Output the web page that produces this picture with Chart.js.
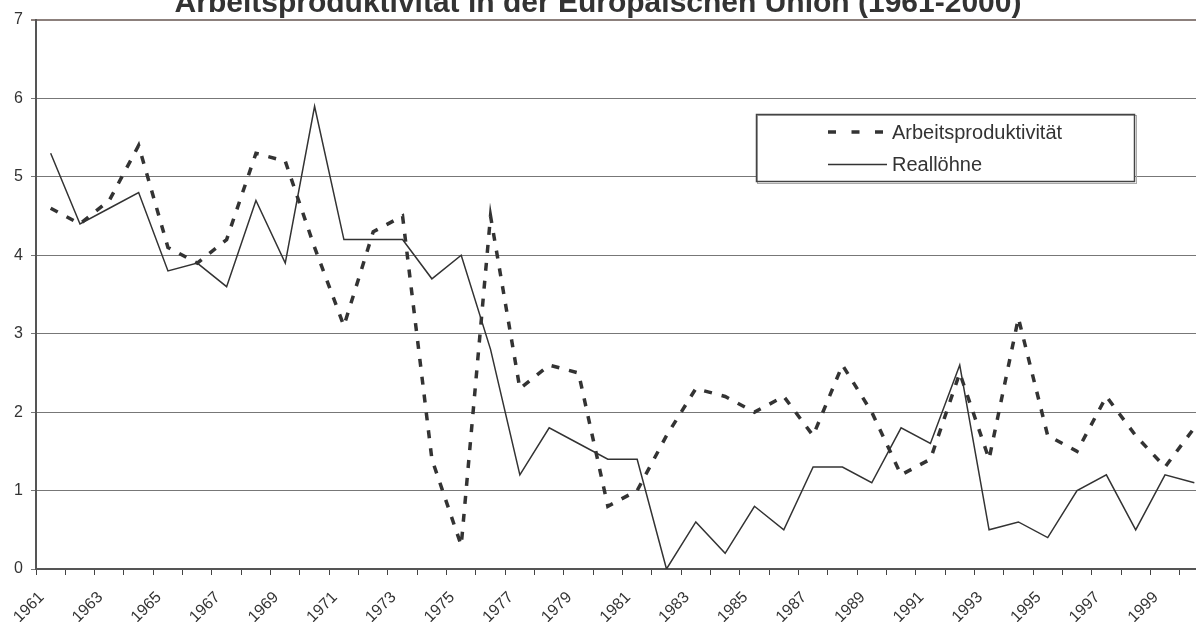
<!DOCTYPE html>
<html>
<head>
<meta charset="utf-8">
<script src="https://cdn.jsdelivr.net/npm/chart.js@4"></script>
<style>
  html, body { margin: 0; padding: 0; overflow: hidden; background: #fff; }
  #wrap { position: absolute; left: 0; top: 0; width: 1214px; height: 622px; }
</style>
</head>
<body>
<div id="wrap"><canvas id="chart"></canvas></div>
<script>
const years = [];
for (let y = 1961; y <= 2000; y++) years.push(String(y));

const productivity = [4.6, 4.4, 4.7, 5.4, 4.1, 3.9, 4.2, 5.3, 5.2, 4.1,
                      3.1, 4.3, 4.5, 1.4, 0.3, 4.5, 2.3, 2.6, 2.5, 0.8,
                      1.0, 1.7, 2.3, 2.2, 2.0, 2.2, 1.7, 2.6, 2.0, 1.2,
                      1.4, 2.5, 1.4, 3.2, 1.7, 1.5, 2.2, 1.7, 1.3, 1.8];
const realWages = [5.3, 4.4, 4.6, 4.8, 3.8, 3.9, 3.6, 4.7, 3.9, 5.9,
                   4.2, 4.2, 4.2, 3.7, 4.0, 2.8, 1.2, 1.8, 1.6, 1.4,
                   1.4, 0.0, 0.6, 0.2, 0.8, 0.5, 1.3, 1.3, 1.1, 1.8,
                   1.6, 2.6, 0.5, 0.6, 0.4, 1.0, 1.2, 0.5, 1.2, 1.1];
const yTicks = [0, 1, 2, 3, 4, 5, 6, 7];

const titleText = 'Arbeitsproduktivität in der Europäischen Union (1961-2000)';
const ink = '#333333';
const fontFamily = '"Liberation Sans", Arial, sans-serif';

// title is cut off at the top edge in the original, so draw it by hand
const titlePlugin = {
  id: 'cutTitle',
  afterDraw(chart) {
    const ctx = chart.ctx;
    ctx.save();
    ctx.font = 'bold 30px ' + fontFamily;
    ctx.fillStyle = ink;
    ctx.textAlign = 'center';
    ctx.textBaseline = 'alphabetic';
    ctx.fillText(titleText, 598, 12);
    ctx.restore();
  }
};

// boxed legend sitting inside the plot
const boxLegend = {
  id: 'boxLegend',
  afterDatasetsDraw(chart) {
    const ctx = chart.ctx;
    ctx.save();
    ctx.fillStyle = '#fff';
    ctx.fillRect(756, 114, 379, 68);
    ctx.strokeStyle = '#aaa';
    ctx.lineWidth = 1;
    ctx.strokeRect(757.5, 115.5, 379, 68);
    ctx.strokeStyle = '#444';
    ctx.lineWidth = 1.5;
    ctx.strokeRect(756.5, 114.5, 378, 67);
    ctx.font = '20px ' + fontFamily;
    ctx.textBaseline = 'middle';
    chart.data.datasets.forEach((ds, i) => {
      const y = 132 + i * 32.5;
      ctx.strokeStyle = ds.borderColor;
      ctx.lineWidth = ds.borderWidth;
      ctx.setLineDash(ds.borderDash ? [8, 15.5] : []);
      ctx.beginPath();
      ctx.moveTo(828, y);
      ctx.lineTo(887, y);
      ctx.stroke();
      ctx.setLineDash([]);
      ctx.fillStyle = ink;
      ctx.fillText(ds.label, 892, y + 1);
    });
    ctx.restore();
  }
};

new Chart(document.getElementById('chart'), {
  type: 'line',
  data: {
    labels: years,
    datasets: [
      {
        label: 'Arbeitsproduktivität',
        data: productivity,
        borderColor: ink,
        borderWidth: 3.5,
        borderDash: [8, 10],
        pointRadius: 0,
        tension: 0,
        fill: false
      },
      {
        label: 'Reallöhne',
        data: realWages,
        borderColor: ink,
        borderWidth: 1.5,
        pointRadius: 0,
        tension: 0,
        fill: false
      }
    ]
  },
  options: {
    responsive: true,
    maintainAspectRatio: false,
    animation: false,
    layout: { padding: { top: 20, right: 5, left: 0, bottom: 0 } },
    plugins: {
      legend: { display: false },
      title: { display: false },
      tooltip: { enabled: false }
    },
    scales: {
      x: {
        offset: true,
        afterFit(scale) {
          scale.height = 53;
          scale.paddingLeft = 0;
          scale.paddingRight = 0;
        },
        border: { display: true, color: '#555', width: 2 },
        grid: { offset: true, drawOnChartArea: false, drawTicks: true, tickLength: 6, color: '#444' },
        ticks: {
          autoSkip: false,
          minRotation: 45,
          maxRotation: 45,
          padding: 13,
          labelOffset: -9,
          color: ink,
          font: { family: fontFamily, size: 16 },
          callback(v, i) { return i % 2 === 0 ? years[i] : ''; }
        }
      },
      y: {
        min: 0,
        max: 7,
        afterFit(scale) { scale.width = 36; },
        afterBuildTicks(scale) { scale.ticks = yTicks.map(v => ({ value: v })); },
        border: { display: true, color: '#555', width: 2 },
        grid: {
          drawTicks: true,
          tickLength: 5,
          color(c) { return c.tick && c.tick.value === 7 ? '#8c807c' : '#777'; },
          lineWidth(c) { return c.tick && c.tick.value === 7 ? 2 : 1; }
        },
        ticks: {
          padding: 8,
          color: ink,
          font: { family: fontFamily, size: 16 }
        }
      }
    }
  },
  plugins: [titlePlugin, boxLegend]
});
</script>
</body>
</html>
